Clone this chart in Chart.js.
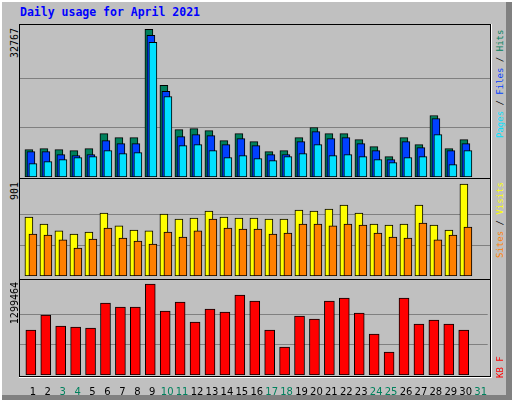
<!DOCTYPE html>
<html><head><meta charset="utf-8">
<script src="https://cdn.jsdelivr.net/npm/chart.js@4.4.1/dist/chart.umd.min.js"></script>
<style>
html,body{margin:0;padding:0;background:#C0C0C0;}
#wrap{position:relative;width:512px;height:400px;overflow:hidden;background:#C0C0C0;}
.abs{position:absolute;}
.rot{position:absolute;transform-origin:0 0;transform:rotate(-90deg);white-space:nowrap;font-family:"DejaVu Sans Mono",monospace;font-size:9px;line-height:9px;}
canvas{position:absolute;}
</style></head><body>
<div id="wrap">
  <div class="abs" style="left:0;top:0;width:512px;height:2px;background:#fff"></div>
  <div class="abs" style="left:0;top:0;width:2px;height:400px;background:#fff"></div>
  <div class="abs" style="left:506px;top:2px;width:6px;height:398px;background:#808080"></div>
  <div class="abs" style="left:2px;top:395px;width:510px;height:5px;background:#808080"></div>
  <div class="abs" style="left:20px;top:5px;font:bold 11.5px 'DejaVu Sans Mono',monospace;color:#0000FF">Daily usage for April 2021</div>

  <canvas id="c1" width="470" height="151" style="left:20px;top:26px"></canvas>
  <canvas id="c2" width="470" height="95" style="left:20px;top:181px"></canvas>
  <canvas id="c3" width="470" height="119" style="left:20px;top:281px"></canvas>

  <div class="abs" style="left:19px;top:24px;width:472px;height:1px;background:#000"></div>
  <div class="abs" style="left:19px;top:24px;width:1px;height:353px;background:#000"></div>
  <div class="abs" style="left:490px;top:24px;width:1px;height:353px;background:#000"></div>
  <div class="abs" style="left:491px;top:24px;width:1px;height:354px;background:#fff"></div>
  <div class="abs" style="left:19px;top:376px;width:472px;height:1px;background:#000"></div>
  <div class="abs" style="left:19px;top:377px;width:473px;height:1px;background:#fff"></div>
  <div class="abs" style="left:19px;top:178px;width:472px;height:1px;background:#000"></div>
  <div class="abs" style="left:19px;top:279px;width:472px;height:1px;background:#000"></div>

  <div class="rot" style="left:10px;top:128px;width:100px;text-align:right;color:#000;font-size:10px;line-height:10px">32767</div>
  <div class="rot" style="left:10px;top:282px;width:100px;text-align:right;color:#000;font-size:10px;line-height:10px">901</div>
  <div class="rot" style="left:10px;top:382px;width:100px;text-align:right;color:#000;font-size:10px;line-height:10px">1299464</div>

  <div class="rot" style="left:496px;top:138px;"><span style="color:#00E0FF">Pages</span><span style="color:#000"> / </span><span style="color:#0040FF">Files</span><span style="color:#000"> / </span><span style="color:#00805C">Hits</span></div>
  <div class="rot" style="left:496px;top:258px;"><span style="color:#FF8000">Sites</span><span style="color:#000"> / </span><span style="color:#FFFF00">Visits</span></div>
  <div class="rot" style="left:496px;top:378px;"><span style="color:#FF0000">KB F</span></div>
</div>
<script>
const days = [1,2,3,4,5,6,7,8,9,10,11,12,13,14,15,16,17,18,19,20,21,22,23,24,25,26,27,28,29,30,31];
const dayLabels = ["1","2","3","4","5","6","7","8","9","10","11","12","13","14","15","16","17","18","19","20","21","22","23","24","25","26","27","28","29","30","31"];
const weekendDays = [3,4,10,11,17,18,24,25,31];
const hits  = [6079,6301,6079,5857,6301,9637,8748,8748,32767,20313,10527,10749,10305,8081,9637,7858,5634,5857,8748,10972,9637,9637,8303,6746,4522,8748,7191,13641,6301,8303,null];
const files = [5634,5634,4967,4745,4967,8081,7413,7413,31433,18978,8970,9415,9193,7191,8525,6969,4967,4967,7858,10082,8525,8748,7413,5857,3855,7858,6524,12973,5857,7413,null];
const pages = [2965,3410,3855,4300,4522,5857,5189,5412,29876,17866,6969,7191,5857,4300,4745,4077,3633,4522,5189,7191,4745,4967,4522,3855,3188,4300,4522,9415,2743,5857,null];
const visits = [578,509,441,411,431,617,490,450,441,607,558,568,636,578,568,568,558,558,646,636,656,695,617,509,499,509,695,499,450,901,null];
const sites  = [411,401,353,274,362,470,372,343,313,431,382,441,558,470,460,460,411,421,509,509,490,509,499,421,382,372,519,353,401,480,null];
const kbytes = [642600,856800,699700,685400,671200,1028200,971000,971000,1299464,913900,1042400,756800,942500,899600,1142400,1056700,642600,399800,842500,799700,1056700,1099600,885400,585500,328400,1099600,728300,785400,728300,642600,null];
const max1 = 32767, max2 = 901, max3 = 1299464;

Chart.defaults.animation = false;
const XMIN = 0.273, XMAX = 31.607, OFF = 2/15;
function pts(arr, off){ return days.map((d,i)=>({x:d+off, y:arr[i]})); }
function ds(arr, off, color, w){
  return {data:pts(arr,off), backgroundColor:color, borderColor:'#000', borderWidth:1, borderSkipped:false, barThickness:w, grouped:false};
}
function yAxis(top, max){
  return {min:0, max:top, display:true, border:{display:false},
    grid:{color:'#808080', lineWidth:1, drawTicks:false},
    ticks:{display:false},
    afterBuildTicks: s=>{ s.ticks=[{value:max/3},{value:2*max/3}]; },
    afterFit: s=>{ s.width=0; }};
}
function xHidden(){
  return {type:'linear', min:XMIN, max:XMAX, offset:false, display:true,
    border:{display:false}, grid:{display:false}, ticks:{display:false},
    afterFit: s=>{ s.height=0; }};
}
function opts(yTop, max, xs){
  return {responsive:false, devicePixelRatio:1, layout:{padding:0},
    plugins:{legend:{display:false}, tooltip:{enabled:false}},
    scales:{x:xs, y:yAxis(yTop, max)}};
}
new Chart(document.getElementById('c1'), {type:'bar',
  data:{datasets:[ds(pages,OFF,'#00E0FF',8), ds(files,0,'#0040FF',8), ds(hits,-OFF,'#00805C',8)]},
  options:opts(33499, max1, xHidden())});
new Chart(document.getElementById('c2'), {type:'bar',
  data:{datasets:[ds(sites,OFF,'#FF8000',8), ds(visits,-OFF,'#FFFF00',8)]},
  options:opts(930, max2, xHidden())});
new Chart(document.getElementById('c3'), {type:'bar',
  data:{datasets:[ds(kbytes,0,'#FF0000',10)]},
  options:opts(1342300, max3, {type:'linear', min:XMIN, max:XMAX, offset:false, display:true,
    border:{display:false}, grid:{display:false},
    afterBuildTicks: s=>{ s.ticks = days.map(d=>({value:d+OFF})); },
    afterFit: s=>{ s.height=25; },
    ticks:{autoSkip:false, maxRotation:0, padding:3,
      font:{family:'DejaVu Sans', size:10},
      color: c=> weekendDays.includes(Math.round(c.tick.value-OFF)) ? '#00805C' : '#000',
      callback:(v,i)=>dayLabels[i]}})});
</script>
</body></html>
